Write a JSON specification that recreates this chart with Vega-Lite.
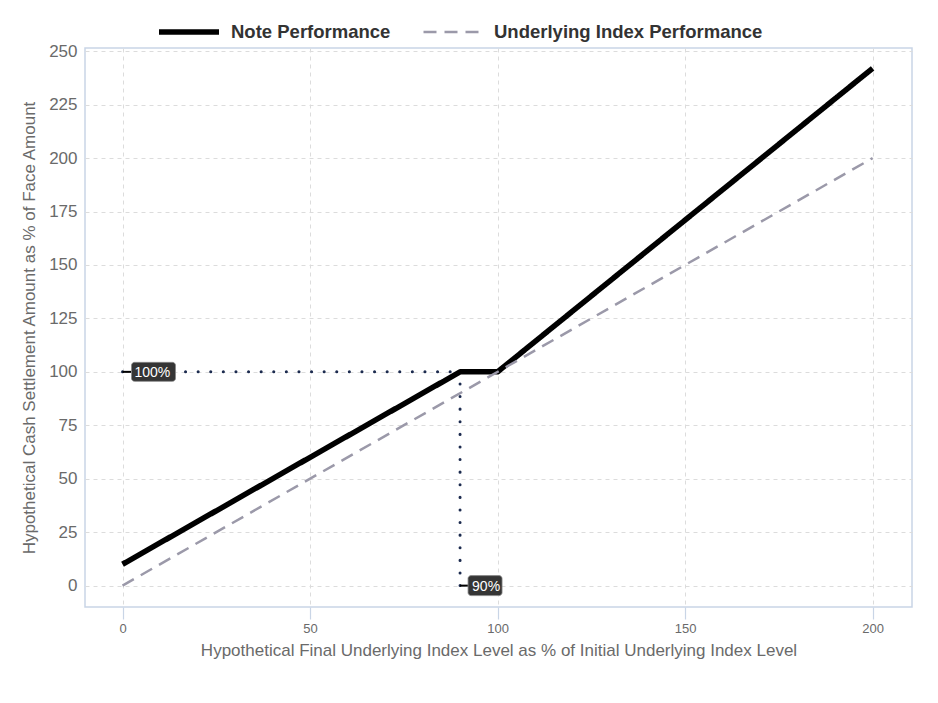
{
  "$schema": "https://vega.github.io/schema/vega-lite/v6.json",
  "width": 827,
  "height": 559,
  "autosize": "none",
  "padding": {"left": 85, "top": 48, "right": 26, "bottom": 96},
  "background": "white",
  "config": {
    "view": {"stroke": "#c9d5e6", "strokeWidth": 1.5},
    "font": "Liberation Sans",
    "axis": {
      "gridColor": "#dcdcdc",
      "gridDash": [4, 4],
      "gridWidth": 1,
      "domain": false,
      "titleFontWeight": "normal",
      "titleColor": "#6a6a6a",
      "labelColor": "#6a6a6a"
    }
  },
  "datasets": {
    "lines": [
      {"level": 0, "value": 10, "series": "Note Performance"},
      {"level": 90, "value": 100, "series": "Note Performance"},
      {"level": 100, "value": 100, "series": "Note Performance"},
      {"level": 200, "value": 242, "series": "Note Performance"},
      {"level": 0, "value": 0, "series": "Underlying Index Performance"},
      {"level": 200, "value": 200, "series": "Underlying Index Performance"}
    ],
    "guides": [
      {"level": 0, "value": 100, "level2": 90, "value2": 100},
      {"level": 90, "value": 0, "level2": 90, "value2": 100}
    ],
    "labels": [
      {"level": 0, "value": 100, "label": "100%"},
      {"level": 90, "value": 0, "label": "90%"}
    ]
  },
  "layer": [
    {
      "data": {"name": "guides"},
      "mark": {"type": "rule", "color": "#1c2b4f", "strokeWidth": 3, "strokeDash": [0.1, 12.5], "strokeCap": "round"},
      "encoding": {
        "x": {
          "field": "level",
          "type": "quantitative",
          "scale": {"domain": [-10, 210.5], "nice": false, "zero": false},
          "axis": {
            "values": [0, 50, 100, 150, 200],
            "title": "Hypothetical Final Underlying Index Level as % of Initial Underlying Index Level",
            "titleFontSize": 17,
            "titlePadding": 7,
            "labelFontSize": 13,
            "labelPadding": 3,
            "ticks": true,
            "tickColor": "#c9d5e6",
            "tickSize": 12,
            "tickWidth": 1.2
          }
        },
        "x2": {"field": "level2"},
        "y": {
          "field": "value",
          "type": "quantitative",
          "scale": {"domain": [-10, 251.5], "nice": false, "zero": false},
          "axis": {
            "values": [0, 25, 50, 75, 100, 125, 150, 175, 200, 225, 250],
            "title": "Hypothetical Cash Settlement Amount as % of Face Amount",
            "titleFontSize": 17,
            "titlePadding": 10,
            "labelFontSize": 17,
            "labelPadding": 8,
            "ticks": false
          }
        },
        "y2": {"field": "value2"}
      }
    },
    {
      "data": {"name": "lines"},
      "mark": {"type": "line", "strokeCap": "butt", "strokeJoin": "round"},
      "encoding": {
        "x": {"field": "level", "type": "quantitative"},
        "y": {"field": "value", "type": "quantitative"},
        "color": {
          "field": "series",
          "type": "nominal",
          "scale": {"domain": ["Note Performance", "Underlying Index Performance"], "range": ["#000000", "#9b99a9"]},
          "legend": {
            "title": null,
            "orient": "none",
            "direction": "horizontal",
            "legendX": 71,
            "legendY": -49,
            "symbolType": "stroke",
            "symbolSize": 3600,
            "labelFontSize": 18.5,
            "labelFontWeight": "bold",
            "labelColor": "#333333",
            "labelOffset": 9,
            "labelLimit": 0,
            "columnPadding": 27
          }
        },
        "strokeDash": {
          "field": "series",
          "type": "nominal",
          "scale": {"domain": ["Note Performance", "Underlying Index Performance"], "range": [[1, 0], [13, 8]]},
          "legend": null
        },
        "strokeWidth": {
          "field": "series",
          "type": "nominal",
          "scale": {"domain": ["Note Performance", "Underlying Index Performance"], "range": [5.5, 2.5]},
          "legend": null
        }
      }
    },
    {
      "data": {"name": "labels"},
      "mark": {"type": "rule", "color": "#000000", "strokeWidth": 2, "x2Offset": 9},
      "encoding": {
        "x": {"field": "level", "type": "quantitative"},
        "x2": {"field": "level"},
        "y": {"field": "value", "type": "quantitative"}
      }
    },
    {
      "data": {"name": "labels"},
      "transform": [{"filter": "datum.label == '100%'"}],
      "mark": {"type": "rect", "fill": "#353535", "stroke": "#888888", "strokeWidth": 0.8, "cornerRadius": 3, "xOffset": 9, "x2Offset": 53, "yOffset": -9.5, "y2Offset": 9.5},
      "encoding": {
        "x": {"field": "level", "type": "quantitative"},
        "x2": {"field": "level"},
        "y": {"field": "value", "type": "quantitative"},
        "y2": {"field": "value"}
      }
    },
    {
      "data": {"name": "labels"},
      "transform": [{"filter": "datum.label == '90%'"}],
      "mark": {"type": "rect", "fill": "#353535", "stroke": "#888888", "strokeWidth": 0.8, "cornerRadius": 3, "xOffset": 8, "x2Offset": 42, "yOffset": -10, "y2Offset": 10},
      "encoding": {
        "x": {"field": "level", "type": "quantitative"},
        "x2": {"field": "level"},
        "y": {"field": "value", "type": "quantitative"},
        "y2": {"field": "value"}
      }
    },
    {
      "data": {"name": "labels"},
      "mark": {"type": "text", "align": "left", "baseline": "middle", "dx": 12, "dy": 1, "color": "#ffffff", "fontSize": 14},
      "encoding": {
        "x": {"field": "level", "type": "quantitative"},
        "y": {"field": "value", "type": "quantitative"},
        "text": {"field": "label"}
      }
    }
  ]
}
